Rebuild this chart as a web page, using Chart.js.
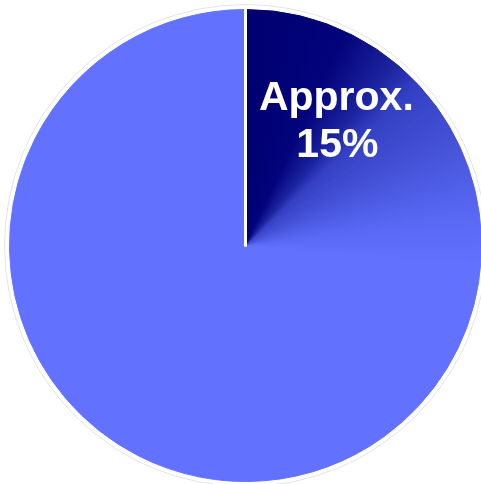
<!DOCTYPE html>
<html><head><meta charset="utf-8">
<script src="https://cdn.jsdelivr.net/npm/chart.js@4.4.1/dist/chart.umd.min.js"></script>
<style>
html,body{margin:0;padding:0;background:#fff;overflow:hidden;width:481px;height:484px}
#c{display:block}
</style></head>
<body><canvas id="c" width="491" height="491"></canvas>
<script>
const categories = ['Approx. 15%', 'Rest'];
const shareValues = [15, 85];
const labelLines = ['Approx.', '15%'];
const mainColor = '#6272ff';
const gradStops = [
  [0.00, '#000070'],
  [0.07, '#03037c'],
  [0.11, '#1c24a0'],
  [0.13, '#3440c4'],
  [0.18, '#4654da'],
  [0.23, '#5969f4'],
  [0.265, mainColor],
  [1.00, mainColor]
];

let cachedGrad = null, cachedKey = '';
function pieFill(ctx) {
  const chart = ctx.chart;
  const a = chart.chartArea;
  if (!a) return mainColor;
  const cx = (a.left + a.right) / 2, cy = (a.top + a.bottom) / 2;
  const key = cx + ',' + cy;
  if (cachedGrad && cachedKey === key) return cachedGrad;
  const g = chart.ctx.createConicGradient(-Math.PI / 2, cx, cy);
  gradStops.forEach(s => g.addColorStop(s[0], s[1]));
  cachedGrad = g; cachedKey = key;
  return g;
}

const decor = {
  id: 'decor',
  beforeDatasetsDraw(chart) {
    const arc = chart.getDatasetMeta(0).data[0];
    if (!arc) return;
    const c = chart.ctx;
    c.save();
    c.beginPath();
    c.arc(arc.x, arc.y, arc.outerRadius + 5, 0, Math.PI * 2);
    c.strokeStyle = '#e4e4e4';
    c.lineWidth = 1;
    c.stroke();
    c.restore();
  },
  afterDatasetsDraw(chart) {
    const arc = chart.getDatasetMeta(0).data[0];
    if (!arc) return;
    const c = chart.ctx;
    const ang = arc.startAngle;
    c.save();
    c.beginPath();
    c.moveTo(arc.x, arc.y);
    c.lineTo(arc.x + Math.cos(ang) * (arc.outerRadius + 1), arc.y + Math.sin(ang) * (arc.outerRadius + 1));
    c.strokeStyle = '#ffffff';
    c.lineWidth = 3;
    c.lineCap = 'round';
    c.stroke();
    // label
    const r = arc.outerRadius;
    const tx = arc.x + r * 0.385;
    c.fillStyle = '#ffffff';
    c.font = "bold 41px 'Liberation Sans', Arial, sans-serif";
    c.textAlign = 'center';
    c.textBaseline = 'alphabetic';
    c.fillText(labelLines[0], tx, arc.y - r * 0.575);
    c.fillText(labelLines[1], tx + 1, arc.y - r * 0.375);
    c.restore();
  }
};

new Chart(document.getElementById('c'), {
  type: 'pie',
  data: {
    labels: categories,
    datasets: [{
      data: shareValues,
      backgroundColor: pieFill,
      borderColor: pieFill,
      borderWidth: 1
    }]
  },
  options: {
    responsive: false,
    animation: false,
    layout: { padding: 9 },
    plugins: { legend: { display: false }, tooltip: { enabled: false } }
  },
  plugins: [decor]
});
</script>
</body></html>
